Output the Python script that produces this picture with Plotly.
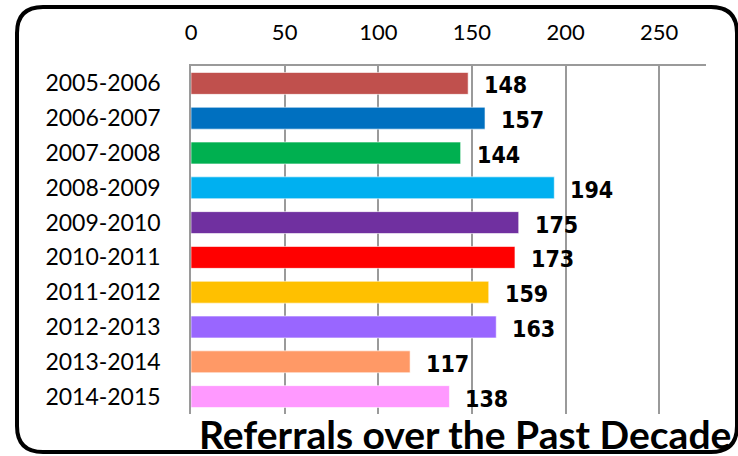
import plotly.graph_objects as go

seasons = ["2005-2006", "2006-2007", "2007-2008", "2008-2009", "2009-2010",
           "2010-2011", "2011-2012", "2012-2013", "2013-2014", "2014-2015"]
referrals = [148, 157, 144, 194, 175, 173, 159, 163, 117, 138]
bar_colors = ["#C0504D", "#0070C0", "#00B050", "#00B0F0", "#7030A0",
              "#FF0000", "#FFC000", "#9966FF", "#FF9966", "#FF99FF"]
x_ticks = [0, 50, 100, 150, 200, 250]

W, H = 738, 456
L, R, T, B = 191, 706, 66, 414


def px_x(v):
    return (v - L) / (R - L)


def px_y(v):
    return (B - v) / (B - T)


fig = go.Figure(go.Bar(
    x=referrals,
    y=seasons,
    orientation="h",
    marker=dict(color=bar_colors, line=dict(color="rgba(255,255,255,0.6)", width=1)),
    width=0.63,
    hoverinfo="x+y",
))

# value labels sit a little right of and below each bar end
for s, v in zip(seasons, referrals):
    fig.add_annotation(
        x=v, y=s, text=f"<b>{v}</b>", showarrow=False,
        xanchor="left", xshift=14, yshift=-2,
        font=dict(family="Liberation Sans Narrow, Arial Narrow, DejaVu Sans Condensed, sans-serif",
                  size=23, color="#000000"),
    )

fig.add_annotation(
    x=px_x(465), y=px_y(434), xref="paper", yref="paper",
    text="<b>Referrals over the Past Decade</b>", showarrow=False,
    xanchor="center", yanchor="middle",
    font=dict(family="Lato, Open Sans, sans-serif", size=39, color="#000000"),
)

# rounded frame
x0, x1, y0, y1, r = 17, 737, 7, 452, 26
path = (f"M {px_x(x0)},{px_y(y0 + r)} "
        f"Q {px_x(x0)},{px_y(y0)} {px_x(x0 + r)},{px_y(y0)} "
        f"L {px_x(x1 - r)},{px_y(y0)} "
        f"Q {px_x(x1)},{px_y(y0)} {px_x(x1)},{px_y(y0 + r)} "
        f"L {px_x(x1)},{px_y(y1 - r)} "
        f"Q {px_x(x1)},{px_y(y1)} {px_x(x1 - r)},{px_y(y1)} "
        f"L {px_x(x0 + r)},{px_y(y1)} "
        f"Q {px_x(x0)},{px_y(y1)} {px_x(x0)},{px_y(y1 - r)} Z")
fig.add_shape(type="path", path=path, xref="paper", yref="paper",
              line=dict(color="#000000", width=4), layer="above")

fig.update_layout(
    width=W, height=H,
    margin=dict(l=L, r=W - R, t=T, b=H - B),
    paper_bgcolor="white",
    plot_bgcolor="white",
    showlegend=False,
    font=dict(family="Lato, Open Sans, sans-serif", size=23, color="#000000"),
    xaxis=dict(
        side="top", range=[0, 275], tickvals=x_ticks,
        showgrid=True, gridcolor="#9A9A9A", gridwidth=1.5,
        showline=True, linecolor="#9A9A9A", linewidth=1.5,
        zeroline=False, ticks="", ticklabelstandoff=15,
        tickfont=dict(size=22),
    ),
    yaxis=dict(
        autorange="reversed", showgrid=False, zeroline=False,
        showline=True, linecolor="#9A9A9A", linewidth=1.5,
        ticks="", ticklabelstandoff=24, tickfont=dict(size=23),
    ),
)

fig.write_html("out.html", config={"displayModeBar": False},
               post_script="document.body.style.margin='0';")
